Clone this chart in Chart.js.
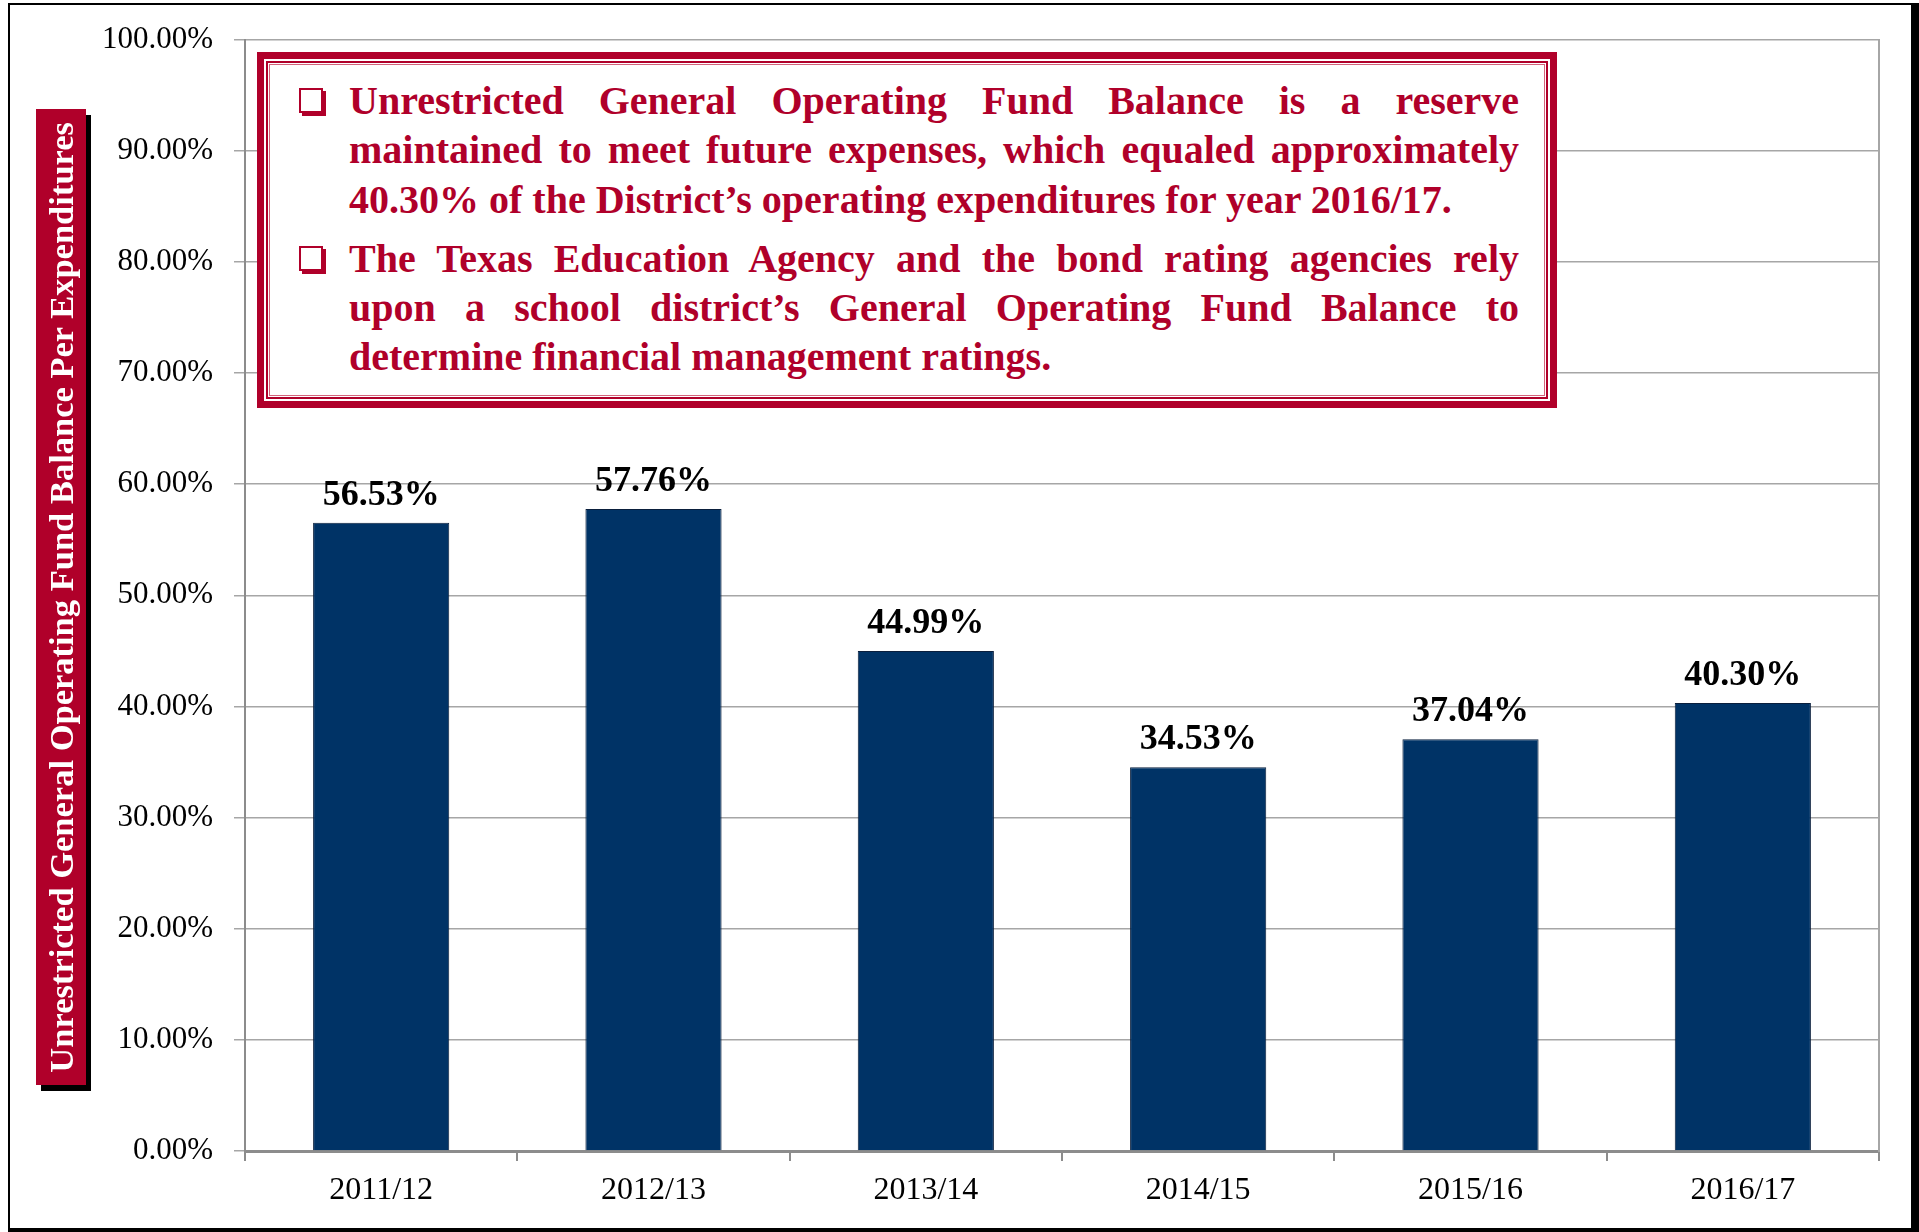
<!DOCTYPE html>
<html>
<head>
<meta charset="utf-8">
<script src="https://cdn.jsdelivr.net/npm/chart.js@4.4.0/dist/chart.umd.min.js"></script>
<style>
  html, body { margin: 0; padding: 0; background: #fff; overflow: hidden; }
  #wrap { position: relative; width: 1919px; height: 1232px; }
  #chart { position: absolute; left: 0; top: 0; }
  .frame {
    position: absolute; left: 8px; top: 3px; right: 0; bottom: 0;
    border-left: 2px solid #000; border-top: 2px solid #000;
    border-right: 8px solid #000; border-bottom: 4px solid #000;
    pointer-events: none;
  }
  .ytitle {
    position: absolute; left: 36px; top: 109px; width: 50px; height: 976px;
    background: #B0002A; box-shadow: 5px 6px 0 #000;
    display: flex; align-items: center; justify-content: center;
  }
  .ytitle span {
    writing-mode: vertical-rl; transform: rotate(180deg);
    color: #fff; font: bold 34.5px "Liberation Serif", serif; white-space: nowrap;
  }
  .note {
    position: absolute; left: 257px; top: 52px; width: 1300px; height: 356px;
    box-sizing: border-box; background: #fff;
    border: 7px solid #B0002A;
    box-shadow: inset 0 0 0 2px #fff, inset 0 0 0 4px #B0002A, inset 0 0 0 5px #fff, inset 0 0 0 6px #d4647c;
  }
  .lines {
    position: absolute; left: 349px; top: 76px; width: 1170px;
    color: #B0002A; font: bold 40px "Liberation Serif", serif; line-height: 49.3px;
  }
  .lines div { white-space: nowrap; }
  .lines .j { text-align: justify; text-align-last: justify; white-space: normal; }
  .lines .gap { height: 10px; }
  .bullet {
    position: absolute; left: 299px; width: 20px; height: 21px;
    border: 2px solid #B0002A; box-shadow: 3px 3px 0 #B0002A; background: #fff;
  }
</style>
</head>
<body>
<div id="wrap">
  <canvas id="chart" width="1919" height="1232"></canvas>
  <div class="ytitle"><span>Unrestricted General Operating Fund Balance Per Expenditures</span></div>
  <div class="note"></div>
  <div class="bullet" style="top:88px"></div>
  <div class="bullet" style="top:246px"></div>
  <div class="lines">
    <div class="j">Unrestricted General Operating Fund Balance is a reserve</div>
    <div class="j">maintained to meet future expenses, which equaled approximately</div>
    <div>40.30% of the District’s operating expenditures for year 2016/17.</div>
    <div class="gap"></div>
    <div class="j">The Texas Education Agency and the bond rating agencies rely</div>
    <div class="j">upon a school district’s General Operating Fund Balance to</div>
    <div>determine financial management ratings.</div>
  </div>
  <div class="frame"></div>
</div>
<script>
const years = ['2011/12', '2012/13', '2013/14', '2014/15', '2015/16', '2016/17'];
const fundBalancePct = [56.53, 57.76, 44.99, 34.53, 37.04, 40.30];
const yTicks = [0, 10, 20, 30, 40, 50, 60, 70, 80, 90, 100];

const barLabels = {
  id: 'barLabels',
  afterDatasetsDraw(chart) {
    const ctx = chart.ctx;
    const meta = chart.getDatasetMeta(0);
    ctx.save();
    ctx.font = 'bold 36px "Liberation Serif"';
    ctx.fillStyle = '#000';
    ctx.textAlign = 'center';
    ctx.textBaseline = 'alphabetic';
    meta.data.forEach((bar, i) => {
      ctx.fillText(fundBalancePct[i].toFixed(2) + '%', bar.x, bar.y - 18);
    });
    ctx.restore();
  }
};

new Chart(document.getElementById('chart'), {
  type: 'bar',
  data: {
    labels: years,
    datasets: [{
      data: fundBalancePct,
      backgroundColor: '#003366',
      borderColor: '#0a1f3d',
      borderWidth: 1,
      barPercentage: 0.5,
      categoryPercentage: 1
    }]
  },
  options: {
    responsive: false,
    animation: false,
    layout: { padding: { top: 39, right: 40, left: 0, bottom: 0 } },
    plugins: { legend: { display: false }, tooltip: { enabled: false } },
    scales: {
      x: {
        offset: true,
        afterFit: (s) => { s.height = 81; },
        grid: { display: true, drawOnChartArea: false, drawTicks: true, tickLength: 10, offset: true, color: '#8c8c8c', lineWidth: 2 },
        border: { color: '#8c8c8c', width: 3 },
        ticks: { color: '#000', padding: 10, font: { family: 'Liberation Serif', size: 32 } }
      },
      y: {
        min: 0,
        max: 100,
        afterFit: (s) => { s.width = 245; },
        afterBuildTicks: (s) => { s.ticks = yTicks.map(v => ({ value: v })); },
        grid: { color: '#a6a6a6', lineWidth: 1.5, tickLength: 11 },
        border: { color: '#8c8c8c', width: 2 },
        ticks: {
          color: '#000', padding: 21,
          font: { family: 'Liberation Serif', size: 31 },
          callback: (v) => v.toFixed(2) + '%'
        }
      },
      y2: {
        position: 'right',
        min: 0,
        max: 100,
        afterFit: (s) => { s.width = 0; },
        grid: { drawOnChartArea: false, drawTicks: false },
        border: { color: '#a6a6a6', width: 2 },
        ticks: { display: false }
      }
    }
  },
  plugins: [barLabels]
});
</script>
</body>
</html>
